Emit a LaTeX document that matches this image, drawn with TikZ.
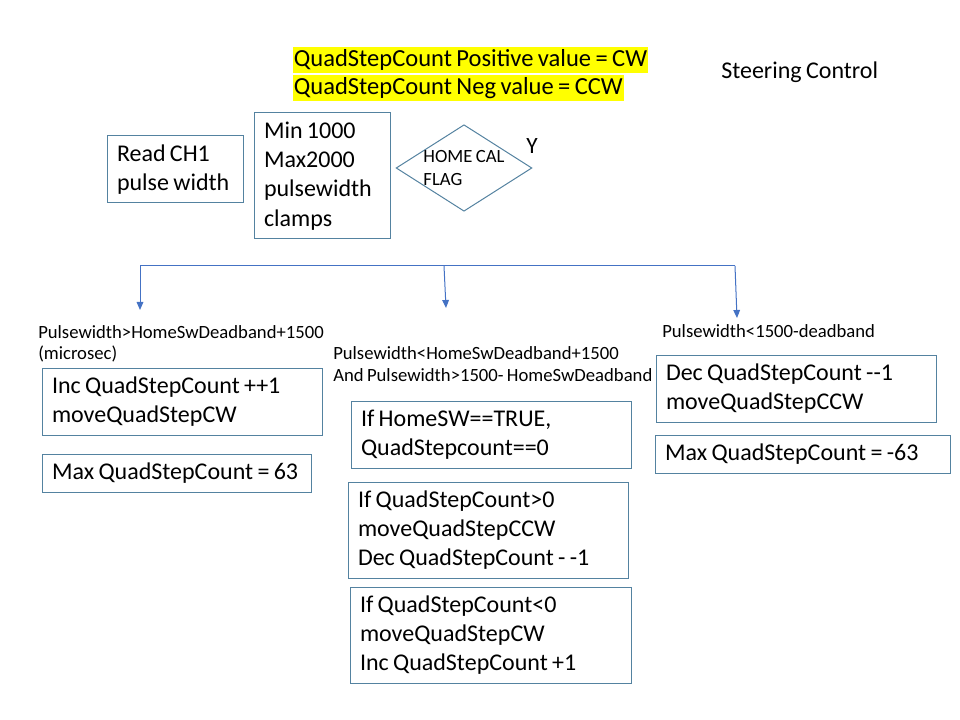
\documentclass[tikz,border=0pt]{standalone}
\usepackage{fontspec}
\setmainfont{Carlito}[WordSpace=0.8]
\usetikzlibrary{shapes.geometric,arrows.meta}
\definecolor{boxline}{RGB}{84,130,160}
\definecolor{arrowblue}{RGB}{68,114,196}
\definecolor{hly}{RGB}{255,255,0}
\begin{document}
\begin{tikzpicture}[x=0.75pt,y=-0.75pt,
 box/.style={draw=boxline, line width=0.75pt, inner xsep=7.5pt, inner ysep=0pt, align=left, font=\fontsize{18}{22}\selectfont, anchor=center, execute at begin node={\spaceskip=0pt\xspaceskip=0pt}},
 lbl/.style={anchor=west, align=left, inner sep=0pt, font=\fontsize{14}{16}\selectfont},
 hl/.style={anchor=west, fill=hly, inner xsep=0.5pt, inner ysep=0pt, minimum height=20pt, font=\fontsize{18.4}{20}\selectfont},
 conn/.style={draw=arrowblue, line width=0.75pt},
 arr/.style={conn, -{Triangle[length=6pt,width=5pt]}}]
\useasboundingbox (0,0) rectangle (960,720);

% header
\node[hl] (hl1) at (293,60) {QuadStepCount Positive value = CW};
\node[hl] (hl2) at (293,88) {QuadStepCount Neg value = CCW};
\node[anchor=west, inner sep=0pt, font=\fontsize{18}{20}\selectfont] (title) at (721,72) {Steering Control};

% top row
\node[box, text width=87pt, minimum height=50.25pt] (read) at (175,169.5) {Read CH1\\pulse width};
\node[box, text width=87pt, minimum height=94.5pt] (clamp) at (322,176) {Min 1000\\Max2000\\pulsewidth\\clamps};
\node[draw=boxline, line width=0.75pt, diamond, aspect=1.57, inner sep=0pt, minimum width=101.25pt, minimum height=64.5pt, align=left, font=\fontsize{14}{17}\selectfont] (flag) at (464,168) {HOME CAL\\FLAG};
\node[inner sep=0pt, font=\fontsize{17.5}{20}\selectfont] (ylab) at (532,146) {Y};

% branch connectors
\coordinate (bl) at (140,266);
\coordinate (bm) at (444,266);
\coordinate (br) at (735,266);
\coordinate (tl) at (140,310);
\coordinate (tm) at (446,308);
\coordinate (tr) at (737,318);
\draw[conn] (bl) -- (br);
\draw[arr] (bl) -- (tl);
\draw[arr] (bm) -- (tm);
\draw[arr] (br) -- (tr);

% labels
\node[lbl] (lblL) at (38,343.5) {Pulsewidth>HomeSwDeadband+1500\\(microsec)};
\node[lbl] (lblM) at (333,364) {Pulsewidth<HomeSwDeadband+1500\\And Pulsewidth>1500- HomeSwDeadband};
\node[lbl] (lblR) at (662,331) {Pulsewidth<1500-deadband};

% left column
\node[box, text width=195pt, minimum height=50.25pt] (inc) at (182,401.5) {Inc QuadStepCount ++1\\moveQuadStepCW};
\node[box, text width=186.75pt, minimum height=28.5pt] (max63) at (176.5,473) {Max QuadStepCount = 63};

% middle column
\node[box, text width=195pt, minimum height=50.25pt] (home) at (491,434.5) {If HomeSW==TRUE,\\QuadStepcount==0};
\node[box, text width=195pt, minimum height=72pt] (gtz) at (488,530) {If QuadStepCount>0\\moveQuadStepCCW\\Dec QuadStepCount -{} -1};
\node[box, text width=195.75pt, minimum height=72pt] (ltz) at (490.5,635) {If QuadStepCount<0\\moveQuadStepCW\\Inc QuadStepCount +1};

% right column
\node[box, text width=195pt, minimum height=50.25pt] (dec) at (796,388.5) {Dec QuadStepCount -{}-1\\moveQuadStepCCW};
\node[box, text width=206.25pt, minimum height=28.5pt] (maxm63) at (802.5,454) {Max QuadStepCount = -63};
\end{tikzpicture}
\end{document}
